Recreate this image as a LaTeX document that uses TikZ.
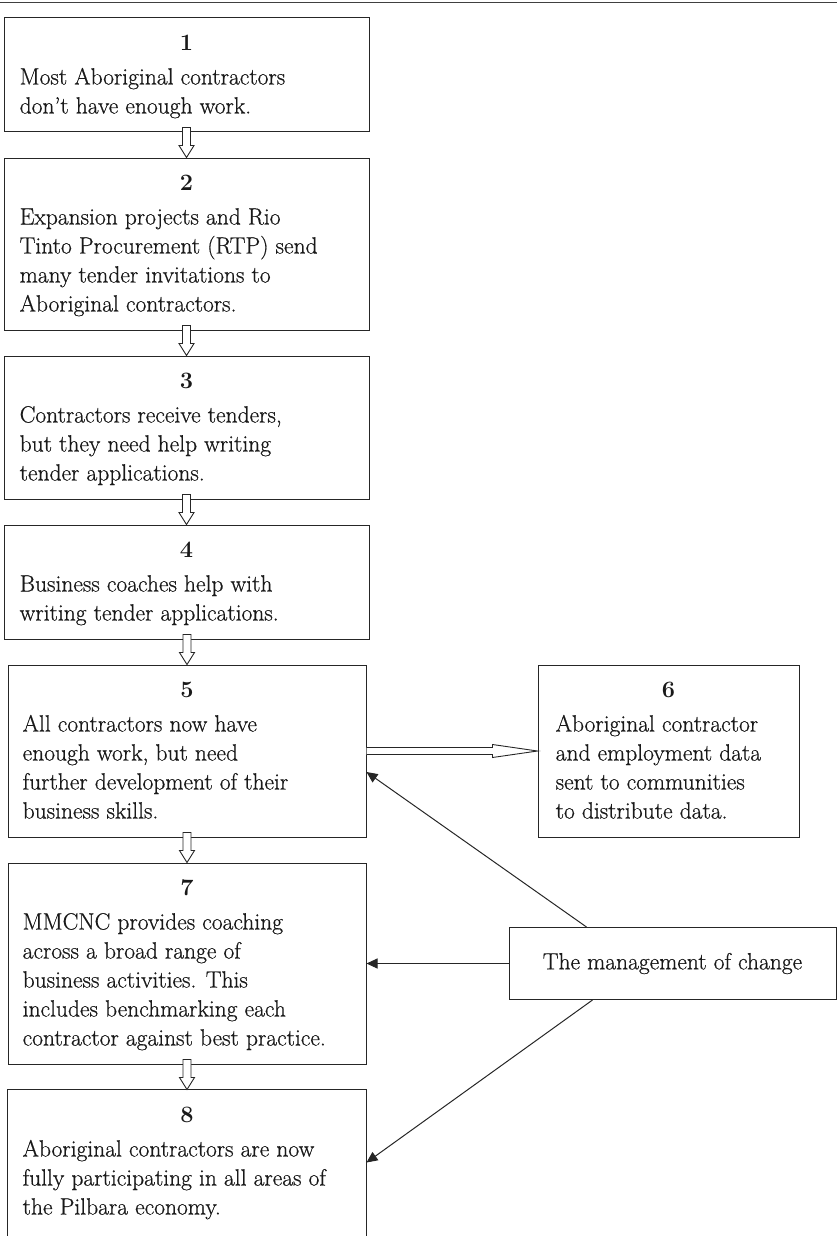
\documentclass[tikz,border=0pt]{standalone}
\usepackage{fontspec}
\usetikzlibrary{calc,arrows.meta}
% text face a little heavier than plain Latin Modern
\newfontfamily\bodyface{Latin Modern Roman}[FakeBold=0.6]

% one framed step of the flow: name, left, right, top, height, title, body rows
\newcommand\bodypad{16}
\newcommand\flowbox[8][]{%
  \node[box,#1,minimum width={(#4-#3)*1pt},minimum height={#6*1pt}] (#2) at ({(#3+#4)/2},{#5+#6/2}) {};
  \node[titletext] (#2-t) at ($(#2.north)+(0,33)$) {#7};
  \node[bodytext] (#2-b) at ($(#2.north west)+(\bodypad,67)$) {\begin{tabular}[t]{@{}l@{}}#8\end{tabular}};
}
% open block arrow pointing down from one step to the next
\newcommand\blockdown[2]{%
  \draw[hollow] ($(#1.south -| #2.north)+(-4,-5)$) -- ($(#2.north)+(-4,-12)$) -- ($(#2.north)+(-7.5,-12)$)
    -- (#2.north) -- ($(#2.north)+(7.5,-12)$) -- ($(#2.north)+(4,-12)$)
    -- ($(#1.south -| #2.north)+(4,-5)$) -- cycle;
}

\begin{document}
\begin{tikzpicture}[x=1pt,y=-1pt,
  box/.style={draw=black!85,line width=1pt,rectangle,inner sep=0pt},
  openbox/.style={draw=none},
  titletext/.style={anchor=base,inner sep=0pt,text=black!90,font=\fontsize{23.5}{29}\selectfont\bfseries},
  bodytext/.style={anchor=base west,inner sep=0pt,text=black!90,font=\fontsize{23.5}{29}\selectfont\bodyface},
  hollow/.style={draw=black!85,line width=0.9pt,fill=white,line join=miter},
  conn/.style={draw=black!85,line width=1pt,-{Triangle[length=11pt,width=10pt]}},
  rule/.style={draw=black!75,line width=1.8pt}]
\useasboundingbox (0,0) rectangle (837,1236);

% rule across the top of the page
\draw[rule] (0,2.5) -- (837,2.5);

\flowbox{b1}{4}{369}{18}{114}{1}{Most Aboriginal contractors\\ don’t have enough work.}
\flowbox{b2}{4}{369}{158}{172}{2}{Expansion projects and Rio\\ Tinto Procurement (RTP) send\\ many tender invitations to\\ Aboriginal contractors.}
\flowbox{b3}{4}{369}{356}{143}{3}{Contractors receive tenders,\\ but they need help writing\\ tender applications.}
\flowbox{b4}{4}{369}{525}{114}{4}{Business coaches help with\\ writing tender applications.}
\renewcommand\bodypad{15}
\flowbox{b5}{8}{366}{665}{172}{5}{All contractors now have\\ enough work, but need\\ further development of their\\ business skills.}
\flowbox{b7}{8}{366}{863}{201}{7}{MMCNC provides coaching\\ across a broad range of\\ business activities. This\\ includes benchmarking each\\ contractor against best practice.}
\flowbox[openbox]{b8}{8}{366}{1090}{146}{8}{Aboriginal contractors are now\\ fully participating in all areas of\\ the Pilbara economy.}
\draw[box] (b8.south west) -- (b8.north west) -- (b8.north east) -- (b8.south east);
\renewcommand\bodypad{18}
\flowbox{b6}{538}{799}{665}{172}{6}{Aboriginal contractor\\ and employment data\\ sent to communities\\ to distribute data.}

% driver box
\node[box,minimum width=327pt,minimum height=72pt,text=black!90,font=\fontsize{23.5}{29}\selectfont\bodyface] (mg) at (672.5,963.5) {The management of change};

% main sequence
\blockdown{b1}{b2}
\blockdown{b2}{b3}
\blockdown{b3}{b4}
\blockdown{b4}{b5}
\blockdown{b5}{b7}
\blockdown{b7}{b8}

% data passed on to the communities
\draw[hollow] ($(b5.east)+(0,-3.5)$) -- ($(b6.west)+(-45,-3.5)$) -- ($(b6.west)+(-45,-6.5)$)
  -- (b6.west) -- ($(b6.west)+(-45,6.5)$) -- ($(b6.west)+(-45,3.5)$) -- ($(b5.east)+(0,3.5)$);

% influence of the management of change
\draw[conn] ($(mg.north west)+(78,0)$) -- ($(b5.east)+(0,21)$);
\draw[conn] (mg.west) -- (b7.east);
\draw[conn] ($(mg.south west)+(84,0)$) -- ($(b8.north east)+(0,73)$);
\end{tikzpicture}
\end{document}
